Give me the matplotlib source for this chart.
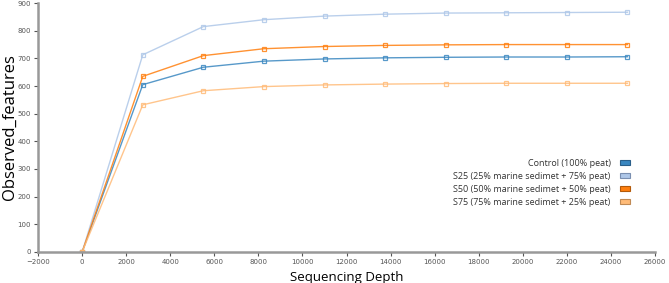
import matplotlib.pyplot as plt
from matplotlib.patches import Patch

depth = [0, 2750, 5500, 8250, 11000, 13750, 16500, 19250, 22000, 24750]
control = [0, 605, 668, 690, 698, 702, 704, 705, 705, 706]
s25 = [0, 713, 815, 840, 853, 860, 864, 865, 866, 867]
s50 = [0, 635, 710, 735, 743, 747, 749, 750, 750, 750]
s75 = [0, 532, 583, 598, 604, 607, 609, 610, 610, 610]

names = ['Control (100% peat)',
         'S25 (25% marine sedimet + 75% peat)',
         'S50 (50% marine sedimet + 50% peat)',
         'S75 (75% marine sedimet + 25% peat)']
colors = ['#3a87c0', '#aec7e8', '#ff7f0e', '#ffbb78']
edges = ['#2a5f8a', '#7a8fb0', '#b35a0a', '#c08a55']

fig = plt.figure(figsize=(6.69, 2.83), dpi=100)
ax = fig.add_axes([0.057, 0.11, 0.922, 0.879])

for ys, c in zip([control, s25, s50, s75], colors):
    ax.plot(depth, ys, color=c, lw=1.0, alpha=0.85, marker='s', ms=3,
            mfc='none', mec=c, mew=0.9)

ax.set_xlim(-2000, 26000)
ax.set_ylim(0, 900)
ax.set_xticks(range(-2000, 26001, 2000))
ax.set_yticks(range(0, 901, 100))
ax.tick_params(labelsize=5, colors='#555555', length=3, width=0.8, pad=2)
for side in ['top', 'right']:
    ax.spines[side].set_visible(False)
for side in ['left', 'bottom']:
    ax.spines[side].set_color('#999999')
    ax.spines[side].set_linewidth(1.8)

ax.set_xlabel('Sequencing Depth', fontsize=9.5, family='Open Sans')
ax.set_ylabel('Observed_features', fontsize=12, family='Open Sans')
ax.xaxis.set_label_coords(0.5, -0.075)
ax.yaxis.set_label_coords(-0.033, 0.5)

handles = [Patch(facecolor=c, edgecolor=e, lw=0.8) for c, e in zip(colors, edges)]
leg = ax.legend(handles, names, loc='upper right', bbox_to_anchor=(0.959, 0.375),
                frameon=False, markerfirst=False,
                handlelength=1.1, handleheight=0.45, labelspacing=0.45,
                handletextpad=1.0, borderpad=0, borderaxespad=0,
                prop={'family': 'Open Sans', 'size': 6.5})
for t in leg.get_texts():
    t.set_color('#333333')
# right-align the rows so the swatches line up on the right
leg._legend_handle_box.get_children()[0].align = 'right'

fig.savefig('out.png', dpi=100)
